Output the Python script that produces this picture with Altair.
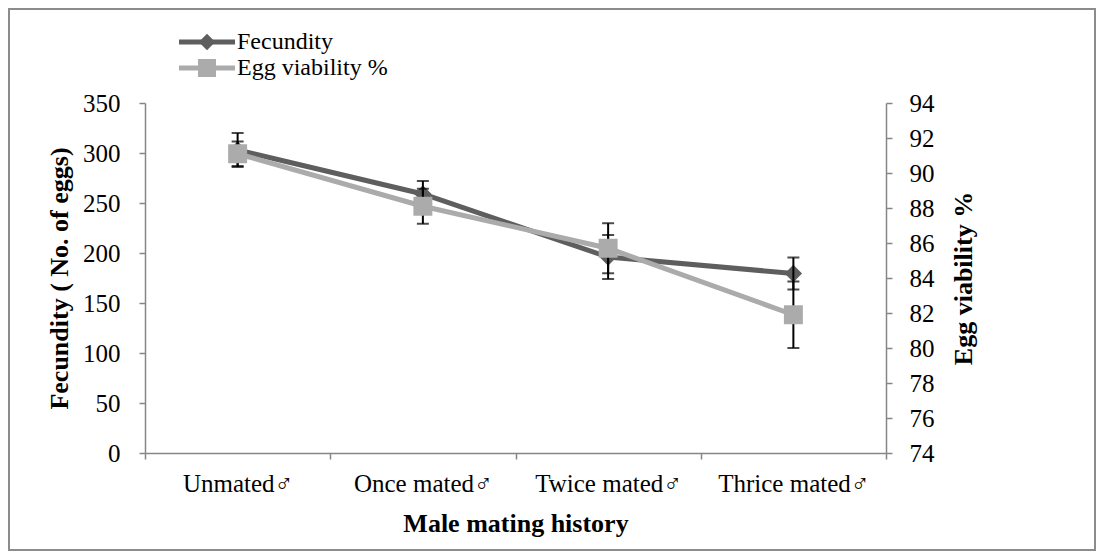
import altair as alt
import pandas as pd

# ---- data ----
categories = ["Unmated♂", "Once mated♂", "Twice mated♂", "Thrice mated♂"]
fecundity = [303, 259, 196, 179.5]
fecundity_err = [17, 13, 22, 16]
viability = [91.1, 88.1, 85.7, 81.9]
viability_err = [0.7, 1.0, 1.43, 1.9]

fec_ticks = [0, 50, 100, 150, 200, 250, 300, 350]
via_ticks = [74, 76, 78, 80, 82, 84, 86, 88, 90, 92, 94]

series_names = ["Fecundity", "Egg viability %"]
series_colors = ["#5e5e5e", "#ababab"]
series_shapes = ["diamond", "square"]
series_sizes = [300, 360]

df = pd.DataFrame({
    "category": categories,
    "fec": fecundity,
    "fec_lo": [v - e for v, e in zip(fecundity, fecundity_err)],
    "fec_hi": [v + e for v, e in zip(fecundity, fecundity_err)],
    "via": viability,
    "via_lo": [v - e for v, e in zip(viability, viability_err)],
    "via_hi": [v + e for v, e in zip(viability, viability_err)],
})

FONT = "'Liberation Serif', 'Times New Roman', Times, serif"
LABEL_SIZE = 25
TITLE_SIZE = 26
LEGEND_SIZE = 24
W, H = 741, 350

x_axis = alt.Axis(
    title="Male mating history",
    tickBand="extent",
    labelAngle=0,
    labelPadding=12,
    titlePadding=14,
    titleFontWeight="bold",
)
x_scale = alt.Scale(type="band", paddingInner=0, paddingOuter=0)
X = alt.X("category:N", sort=categories, scale=x_scale, bandPosition=0.5, axis=x_axis)

base = alt.Chart(df)

# ---- fecundity (left axis) ----
fec_scale = alt.Scale(domain=[0, 350], nice=False, zero=False)
fec_axis = alt.Axis(
    orient="left",
    values=fec_ticks,
    title="Fecundity ( No. of eggs)",
    titleFontWeight="bold",
    labelPadding=19,
    titlePadding=10,
)


def fy(field):
    return alt.Y(field, type="quantitative", scale=fec_scale, axis=fec_axis)


fec_line = base.mark_line(color=series_colors[0], strokeWidth=5).encode(x=X, y=fy("fec"))
fec_pts = base.mark_point(
    shape=series_shapes[0], filled=True, size=series_sizes[0], color=series_colors[0], opacity=1
).encode(x=X, y=fy("fec"))
fec_err = base.mark_rule(color="black", strokeWidth=2).encode(x=X, y=fy("fec_lo"), y2="fec_hi:Q")
fec_cap_lo = base.mark_tick(color="black", size=12, thickness=2, orient="horizontal").encode(x=X, y=fy("fec_lo"))
fec_cap_hi = base.mark_tick(color="black", size=12, thickness=2, orient="horizontal").encode(x=X, y=fy("fec_hi"))
fec_group = alt.layer(fec_line, fec_pts, fec_err, fec_cap_lo, fec_cap_hi)

# ---- egg viability (right axis) ----
via_scale = alt.Scale(domain=[74, 94], nice=False, zero=False)
via_axis = alt.Axis(
    orient="right",
    values=via_ticks,
    title="Egg viability %",
    titleFontWeight="bold",
    titleAngle=270,
    labelPadding=17,
    titlePadding=42,
)


def vy(field):
    return alt.Y(field, type="quantitative", scale=via_scale, axis=via_axis)


via_err = base.mark_rule(color="black", strokeWidth=2).encode(x=X, y=vy("via_lo"), y2="via_hi:Q")
via_cap_lo = base.mark_tick(color="black", size=12, thickness=2, orient="horizontal").encode(x=X, y=vy("via_lo"))
via_cap_hi = base.mark_tick(color="black", size=12, thickness=2, orient="horizontal").encode(x=X, y=vy("via_hi"))
via_line = base.mark_line(color=series_colors[1], strokeWidth=5).encode(x=X, y=vy("via"))
via_pts = base.mark_point(
    shape=series_shapes[1], filled=True, size=series_sizes[1], color=series_colors[1], opacity=1
).encode(x=X, y=vy("via"))
via_group = alt.layer(via_err, via_cap_lo, via_cap_hi, via_line, via_pts)

# ---- decorations: frame + legend ----
one = pd.DataFrame({"k": [0]})
frame = alt.Chart(one).mark_rect(fillOpacity=0, stroke="#8c8c8c", strokeWidth=2).encode(
    x=alt.value(-136), x2=alt.value(950), y=alt.value(-94), y2=alt.value(447)
)

legend_layers = []
legend_y = [-61, -35]
for name, col, shp, sz, ly in zip(series_names, series_colors, series_shapes, series_sizes, legend_y):
    legend_layers.append(
        alt.Chart(one).mark_rule(color=col, strokeWidth=5).encode(
            x=alt.value(34), x2=alt.value(90), y=alt.value(ly)
        )
    )
    legend_layers.append(
        alt.Chart(one).mark_point(shape=shp, filled=True, size=sz * 0.9, color=col, opacity=1).encode(
            x=alt.value(62), y=alt.value(ly)
        )
    )
    legend_layers.append(
        alt.Chart(one).mark_text(align="left", baseline="middle", font=FONT, fontSize=LEGEND_SIZE, color="black").encode(
            x=alt.value(92), y=alt.value(ly), text=alt.value(name)
        )
    )

chart = (
    alt.layer(fec_group, via_group, frame, *legend_layers)
    .resolve_scale(y="independent")
    .properties(
        width=W,
        height=H,
        autosize=alt.AutoSizeParams(type="none"),
        padding={"left": 137, "top": 95, "right": 210, "bottom": 98},
        background="white",
    )
    .configure_view(stroke=None)
    .configure_axis(
        domainColor="#868686",
        tickColor="#868686",
        domainWidth=1.5,
        tickWidth=1.5,
        tickSize=6,
        grid=False,
        labelFont=FONT,
        titleFont=FONT,
        labelFontSize=LABEL_SIZE,
        titleFontSize=TITLE_SIZE,
        labelColor="black",
        titleColor="black",
    )
)

chart.save("out.html", embed_options={"renderer": "svg", "actions": False})
